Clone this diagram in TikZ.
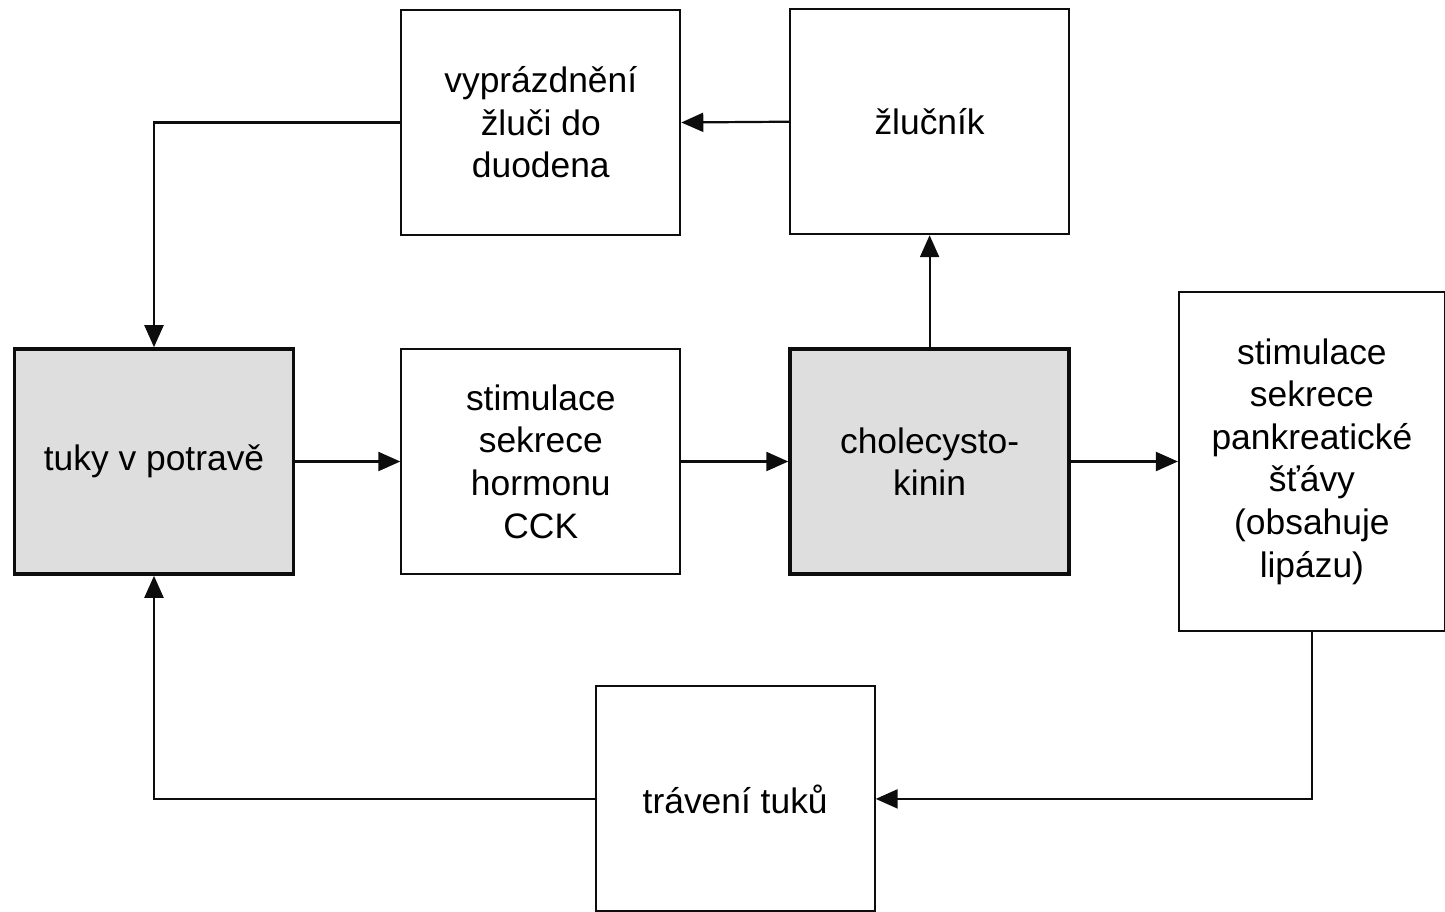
\documentclass[tikz,border=0pt]{standalone}
\usepackage{fontspec}
\setmainfont{Liberation Sans}
\usepackage{tikz}
\usetikzlibrary{arrows.meta, calc, positioning}
\usepackage{xcolor}
\definecolor{RichBlack}{gray}{0.05}
\definecolor{LiteGray}{gray}{0.87}
\tikzset{%
  block/.style={%
    rectangle,%
    minimum width=139.5pt,%
    minimum height=112.5pt,%
    inner sep=0pt,%
    draw=RichBlack,%
    line width=1pt,%
    font={\fontsize{17.7pt}{21.3pt}\selectfont},%
    align=center%
  },
  shaded_block/.style={%
    block,%
    fill=LiteGray,%
    line width=1.8pt,%
  },
  smooth_path/.style={%
    color=RichBlack,%
    line join=miter,%
    line width=1.1pt,%
  },
  arrow/.style={-{Triangle[length=11pt, width=9.5pt]}},
}
\begin{document}
\begin{tikzpicture}

    \useasboundingbox (-77pt, 230.75pt) rectangle (645.5pt, -224.75pt);

    \node [shaded_block] (Fats) at (0, 0) {%
      tuky v potravě%
    };
    \node [block, right = 52.5pt of Fats] (Secretion) {%
      stimulace\\sekrece\\hormonu\\CCK%
    };
    \node [shaded_block, right = 53.5pt of Secretion] (CCK) {%
      cholecysto-\\kinin%
    };
    \node [block, minimum width=133pt, minimum height=169.5pt,
      right = 53.5pt of CCK] (Pancreas) {%
      stimulace\\sekrece\\pankreatické\\šťávy\\(obsahuje\\lipázu)%
    };
    \node [block, above = 56pt of Secretion] (Bile) {%
      vyprázdnění\\žluči do\\duodena%
    };
    \node [block, above = 56pt of CCK] (Gallbladder) {%
      žlučník%
    };
    \coordinate (mid_low) at ($(Secretion.south)!0.5!(CCK.south)$);
    \node [block, below = 55pt of mid_low] (Digestion) {%
      trávení tuků%
    };

    \draw [arrow, smooth_path]
      (Fats.east)
      --
      (Secretion.west);
    \draw [arrow, smooth_path]
      (Secretion.east)
      --
      (CCK.west);
    \draw [arrow, smooth_path]
      (CCK.east)
      --
      (Pancreas.west);
    \draw [arrow, smooth_path]
      (CCK.north)
      --
      (Gallbladder.south);
    \draw [arrow, smooth_path]
      (Gallbladder.west)
      --
      (Bile.east);
    \draw [arrow, smooth_path]
      (Bile.west)
      -|
      (Fats.north);
    \draw [arrow, smooth_path]
      (Pancreas.south)
      |-
      (Digestion.east);
    \draw [arrow, smooth_path]
      (Digestion.west)
      -|
      (Fats.south);
  \end{tikzpicture}
\end{document}
